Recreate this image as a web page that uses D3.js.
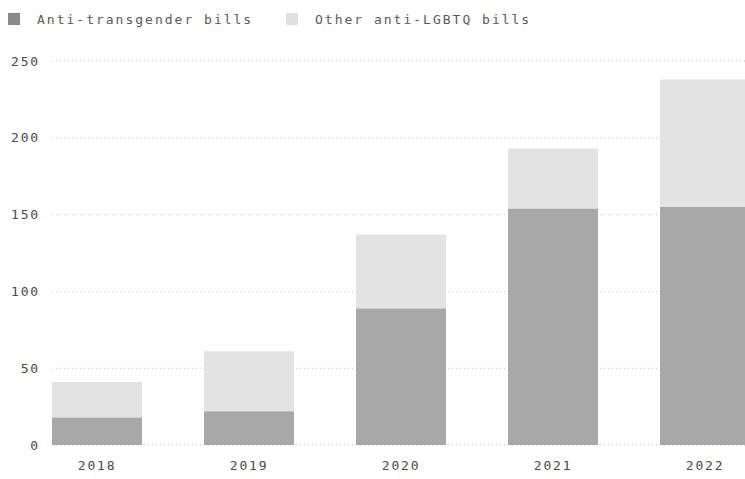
<!DOCTYPE html>
<html><head><meta charset="utf-8">
<script src="https://cdn.jsdelivr.net/npm/d3@7"></script>
<style>
html,body{margin:0;padding:0;background:#fff;}
text{font-family:"DejaVu Sans Mono","Liberation Mono",monospace;}
</style></head>
<body>
<svg id="c" width="745" height="479"></svg>
<script>
const years = ["2018","2019","2020","2021","2022"];
const antiTrans = [18, 22, 89, 154, 155];
const otherLGBTQ = [23, 39, 48, 39, 83];
const yTicks = [0, 50, 100, 150, 200, 250];
const seriesNames = ["Anti-transgender bills", "Other anti-LGBTQ bills"];
const colors = ["#a8a8a8", "#e3e3e3"];

const svg = d3.select("#c");
const x = d3.scaleBand().domain(years).range([21, 781]).paddingInner(0.408).paddingOuter(0.204);
const y = d3.scaleLinear().domain([0, 250]).range([445, 61]);

// gridlines
svg.append("g").selectAll("line").data(yTicks).join("line")
  .attr("x1", 52).attr("x2", 745)
  .attr("y1", d => y(d)).attr("y2", d => y(d))
  .attr("stroke", "#bdbdbd").attr("stroke-width", 1)
  .attr("stroke-dasharray", "1,3");

// y axis labels
const yAxis = d3.axisLeft(y).tickValues(yTicks).tickSize(0).tickPadding(0);
const gy = svg.append("g").attr("transform", "translate(40,0)").call(yAxis);
gy.select(".domain").remove();
gy.selectAll("text").attr("fill", "#4a4a4a").style("font-size", "13px").style("letter-spacing", "1.8px")
  .attr("font-family", "DejaVu Sans Mono");

// bars
const data = years.map((yr, i) => ({year: yr, a: antiTrans[i], b: otherLGBTQ[i]}));
const stack = d3.stack().keys(["a", "b"])(data);
svg.append("g").selectAll("g").data(stack).join("g")
  .attr("fill", (d, i) => colors[i])
  .selectAll("rect").data(d => d).join("rect")
  .attr("x", d => x(d.data.year))
  .attr("width", x.bandwidth())
  .attr("y", d => y(d[1]))
  .attr("height", d => y(d[0]) - y(d[1]));

// x axis labels
const xAxis = d3.axisBottom(x).tickSize(0).tickPadding(0);
const gx = svg.append("g").attr("transform", "translate(0,458)").call(xAxis);
gx.select(".domain").remove();
gx.selectAll("text").attr("fill", "#4a4a4a").style("font-size", "13px").style("letter-spacing", "1.8px")
  .attr("dy", "0.9em");

// legend
const legX = [8, 286];
const lg = svg.append("g").selectAll("g").data(seriesNames).join("g")
  .attr("transform", (d, i) => `translate(${legX[i]},13)`);
lg.append("rect").attr("width", 12).attr("height", 12).attr("fill", (d, i) => i === 0 ? "#8a8a8a" : "#e0e0e0");
lg.append("text").attr("x", 29).attr("y", 10.5).text(d => d)
  .attr("fill", "#5a5a5a").style("font-size", "13px").style("letter-spacing", "2px");
</script>
</body></html>
